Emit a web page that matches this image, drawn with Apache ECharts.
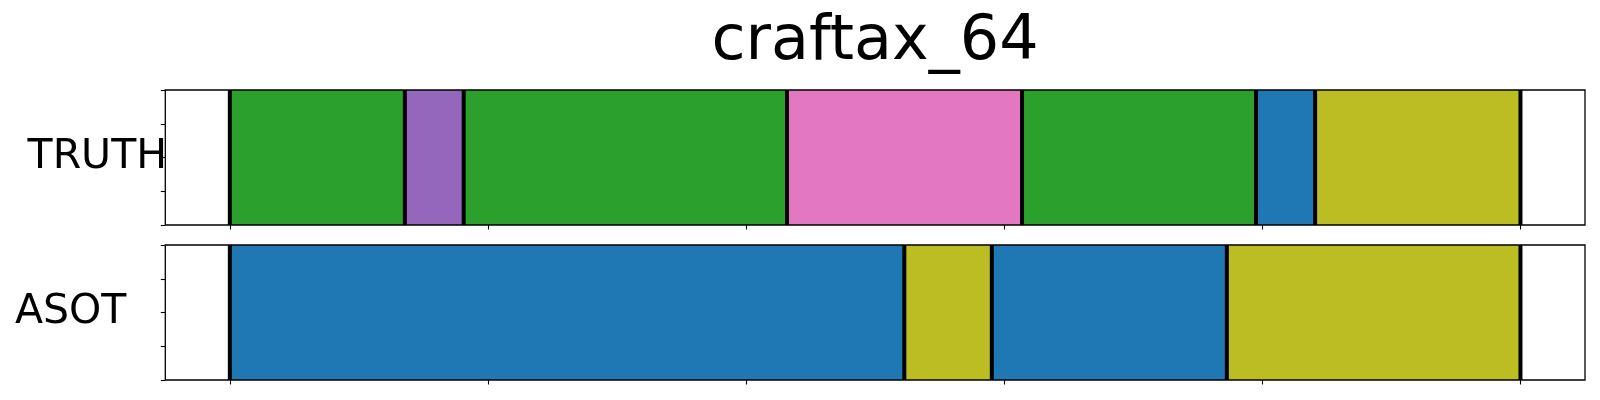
<!DOCTYPE html>
<html>
<head>
<meta charset="utf-8">
<script src="https://cdn.jsdelivr.net/npm/echarts@6/dist/echarts.min.js"></script>
<style>
html,body{margin:0;padding:0;background:#fff;}
#c{width:1600px;height:400px;}
</style>
</head>
<body>
<div id="c"></div>
<script>
// ---- data ----
const chartTitle = 'craftax_64';
const rowNames = ['TRUTH', 'ASOT'];
const xTicks = [0, 20, 40, 60, 80, 100];
const truthBounds = [0, 13.56, 18.12, 43.17, 61.38, 79.51, 84.09, 100];
const truthClasses = ['green', 'purple', 'green', 'pink', 'green', 'blue', 'olive'];
const asotBounds = [0, 52.26, 59.04, 77.25, 100];
const asotClasses = ['blue', 'olive', 'blue', 'olive'];

// ---- styles ----
const palette = {
  blue: '#1f77b4', green: '#2ca02c', purple: '#9467bd',
  pink: '#e377c2', olive: '#bcbd22'
};
const FONT = '"DejaVu Sans", sans-serif';

function segData(bounds, classes) {
  const out = [];
  for (let i = 0; i < classes.length; i++) {
    out.push({ value: [bounds[i], bounds[i + 1], 0, 1], itemStyle: { color: palette[classes[i]] } });
  }
  return out;
}

function renderSeg(params, api) {
  const p0 = api.coord([api.value(0), api.value(3)]);
  const p1 = api.coord([api.value(1), api.value(2)]);
  return {
    type: 'rect',
    shape: { x: p0[0], y: p0[1], width: p1[0] - p0[0], height: p1[1] - p0[1] },
    style: { fill: api.visual('color') }
  };
}
function renderBound(params, api) {
  const p0 = api.coord([api.value(0), 1]);
  const p1 = api.coord([api.value(0), 0]);
  return {
    type: 'line',
    shape: { x1: p0[0], y1: p0[1], x2: p1[0], y2: p1[1] },
    style: { stroke: '#000', lineWidth: 4 }
  };
}

const grids = [
  { left: 165.3, right: 15, top: 90, height: 135 },
  { left: 165.3, right: 15, top: 245, height: 135 }
].map(g => Object.assign(g, { show: true, borderColor: '#000', borderWidth: 1.3, backgroundColor: 'transparent', z: 10, containLabel: false }));

function xAx(i) {
  return {
    type: 'value', gridIndex: i, min: -5, max: 105, position: 'bottom',
    axisLine: { show: false, onZero: false },
    axisTick: { show: true, customValues: xTicks, length: 4.5, lineStyle: { color: '#000', width: 1.1 } },
    axisLabel: { show: false },
    splitLine: { show: false }
  };
}
function yAx(i) {
  return {
    type: 'value', gridIndex: i, min: 0, max: 1, interval: 0.25, position: 'left',
    axisLine: { show: false, onZero: false },
    axisTick: { show: true, length: 4.5, lineStyle: { color: '#000', width: 1.1 } },
    axisLabel: { show: false },
    splitLine: { show: false }
  };
}

function segSeries(i, bounds, classes) {
  return {
    type: 'custom', xAxisIndex: i, yAxisIndex: i,
    renderItem: renderSeg,
    encode: { x: [0, 1], y: [2, 3] },
    data: segData(bounds, classes),
    z: 2, silent: true
  };
}
function boundSeries(i, bounds) {
  return {
    type: 'custom', xAxisIndex: i, yAxisIndex: i,
    renderItem: renderBound,
    encode: { x: 0 },
    data: bounds.map(b => [b]),
    z: 5, silent: true
  };
}

const chart = echarts.init(document.getElementById('c'), null, { renderer: 'canvas' });
chart.setOption({
  animation: false,
  backgroundColor: '#fff',
  grid: grids,
  xAxis: [xAx(0), xAx(1)],
  yAxis: [yAx(0), yAx(1)],
  series: [
    segSeries(0, truthBounds, truthClasses), segSeries(1, asotBounds, asotClasses),
    boundSeries(0, truthBounds), boundSeries(1, asotBounds)
  ],
  graphic: [
    { type: 'text', x: 875, y: 43, style: { text: chartTitle, font: '62px ' + FONT, fill: '#000', textAlign: 'center', textVerticalAlign: 'middle' } },
    { type: 'text', x: 167, y: 157, style: { text: rowNames[0], font: '41px ' + FONT, fill: '#000', textAlign: 'right', textVerticalAlign: 'middle' } },
    { type: 'text', x: 15, y: 312, style: { text: rowNames[1], font: '41px ' + FONT, fill: '#000', textAlign: 'left', textVerticalAlign: 'middle' } }
  ]
});
</script>
</body>
</html>
